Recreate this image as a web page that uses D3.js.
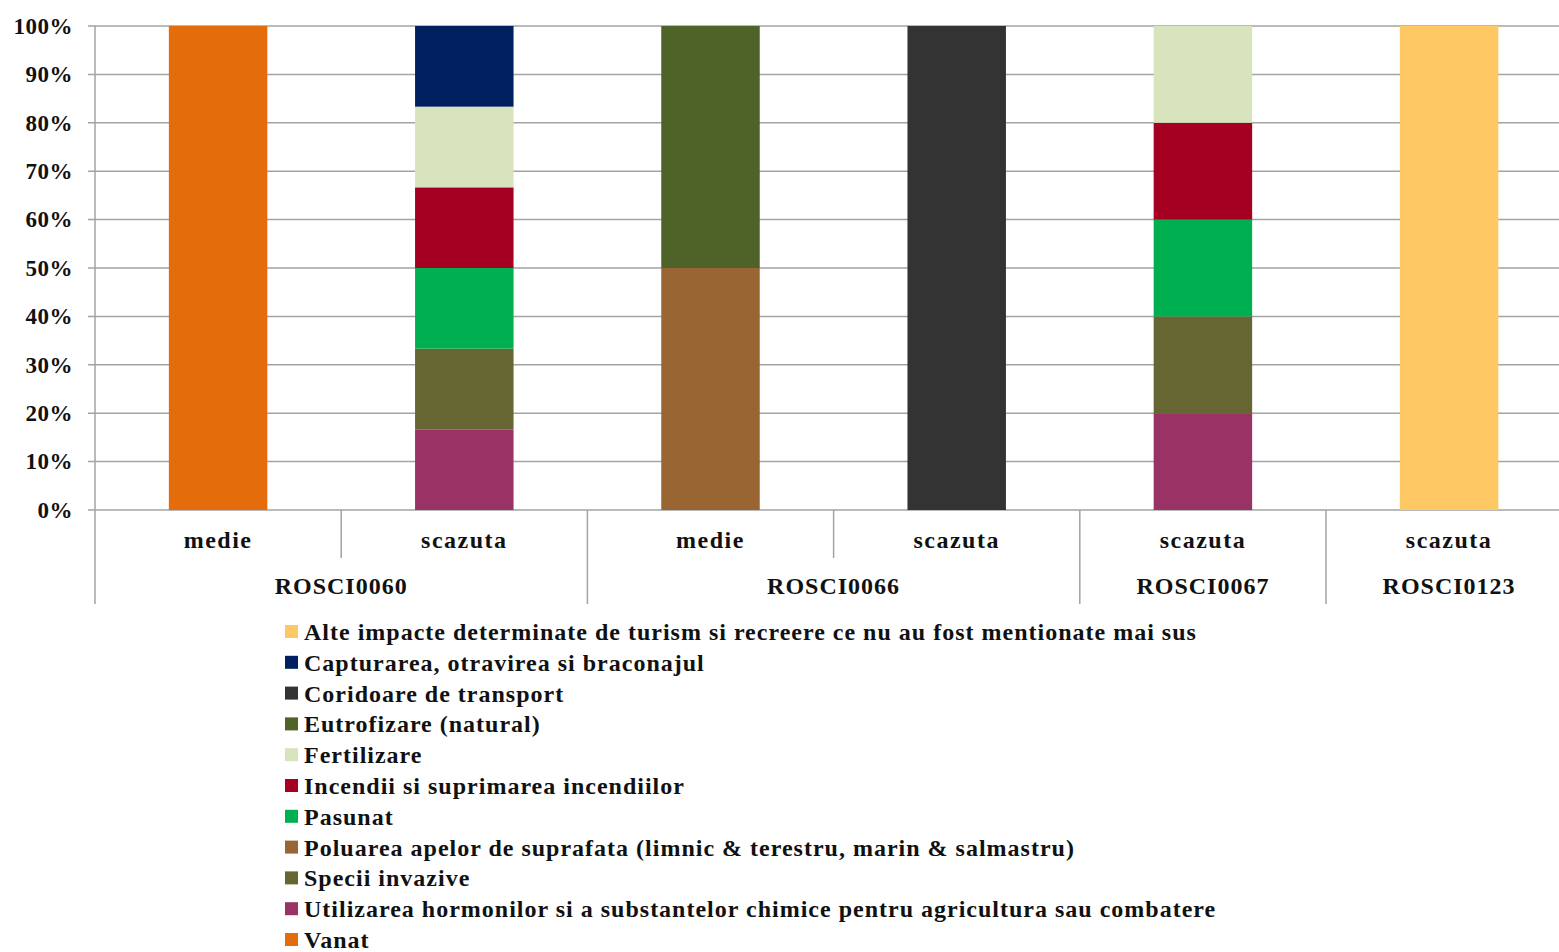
<!DOCTYPE html>
<html>
<head>
<meta charset="utf-8">
<script src="https://cdn.jsdelivr.net/npm/d3@7"></script>
<style>
  html, body { margin: 0; padding: 0; background: #fff; }
  svg { display: block; }
  text { font-family: "Liberation Serif", "DejaVu Serif", serif; font-weight: bold; fill: #111; }
</style>
</head>
<body>
<svg id="chart" width="1559" height="952"></svg>
<script>
// Each bar: a site and the level of impact recorded there
const sites  = ["ROSCI0060", "ROSCI0060", "ROSCI0066", "ROSCI0066", "ROSCI0067", "ROSCI0123"];
const levels = ["medie", "scazuta", "medie", "scazuta", "scazuta", "scazuta"];

// Threat names, legend order (top to bottom)
const threats = [
  "Alte impacte determinate de turism si recreere ce nu au fost mentionate mai sus",
  "Capturarea, otravirea si braconajul",
  "Coridoare de transport",
  "Eutrofizare (natural)",
  "Fertilizare",
  "Incendii si suprimarea incendiilor",
  "Pasunat",
  "Poluarea apelor de suprafata (limnic & terestru, marin & salmastru)",
  "Specii invazive",
  "Utilizarea hormonilor si a substantelor chimice pentru agricultura sau combatere",
  "Vanat"
];

const colors = [
  "#fec964", "#002060", "#333333", "#4f6228", "#d7e4bd", "#a50021",
  "#00b050", "#996633", "#666633", "#993366", "#e46c0a"
];

// Number of occurrences per bar, one array per threat
const alte        = [0, 0, 0, 0, 0, 1];
const capturarea  = [0, 1, 0, 0, 0, 0];
const coridoare   = [0, 0, 0, 1, 0, 0];
const eutrofizare = [0, 0, 1, 0, 0, 0];
const fertilizare = [0, 1, 0, 0, 1, 0];
const incendii    = [0, 1, 0, 0, 1, 0];
const pasunat     = [0, 1, 0, 0, 1, 0];
const poluarea    = [0, 0, 1, 0, 0, 0];
const specii      = [0, 1, 0, 0, 1, 0];
const utilizarea  = [0, 1, 0, 0, 1, 0];
const vanat       = [1, 0, 0, 0, 0, 0];

const yTicks = [0, 0.1, 0.2, 0.3, 0.4, 0.5, 0.6, 0.7, 0.8, 0.9, 1.0];

const seriesValues = [alte, capturarea, coridoare, eutrofizare, fertilizare,
  incendii, pasunat, poluarea, specii, utilizarea, vanat];

(function draw() {
  // Build a row per bar for d3.stack
  const rows = sites.map((s, i) => {
    const r = { idx: i };
    threats.forEach((t, k) => { r[t] = seriesValues[k][i]; });
    return r;
  });

  // Stack bottom-up in reverse legend order (Vanat at the bottom)
  const stackKeys = threats.slice().reverse();
  const stacked = d3.stack()
    .keys(stackKeys)
    .offset(d3.stackOffsetExpand)
    .order(d3.stackOrderNone)(rows);

  const color = d3.scaleOrdinal().domain(threats).range(colors);

  const svg = d3.select("#chart");
  const plotLeft = 95, plotTop = 26, plotBottom = 510, step = 246.2;

  const x = d3.scaleBand()
    .domain(d3.range(sites.length))
    .range([plotLeft, plotLeft + step * sites.length])
    .paddingInner(0.6)
    .paddingOuter(0.3);

  const y = d3.scaleLinear().domain([0, 1]).range([plotBottom, plotTop]);

  // Gridlines
  const gridColor = "#a3a3a3";
  svg.append("g")
    .selectAll("line")
    .data(yTicks)
    .join("line")
    .attr("x1", plotLeft - 7)
    .attr("x2", 1559)
    .attr("y1", d => y(d))
    .attr("y2", d => y(d))
    .attr("stroke", gridColor)
    .attr("stroke-width", 1.5);

  // Y axis labels
  const yAxis = d3.axisLeft(y).tickValues(yTicks).tickFormat(d3.format(".0%")).tickSize(0).tickPadding(22);
  const gy = svg.append("g").attr("transform", `translate(${plotLeft},0)`).call(yAxis);
  gy.select(".domain").remove();
  gy.selectAll("text")
    .style("font-family", "'Liberation Serif', serif")
    .style("font-weight", "bold")
    .style("font-size", "23px")
    .style("letter-spacing", "0.5px")
    .attr("fill", "#111");

  // Bars
  svg.append("g")
    .selectAll("g")
    .data(stacked)
    .join("g")
    .attr("fill", d => color(d.key))
    .selectAll("rect")
    .data(d => d.filter(p => p[1] - p[0] > 0))
    .join("rect")
    .attr("x", d => x(d.data.idx))
    .attr("width", x.bandwidth())
    .attr("y", d => y(d[1]))
    .attr("height", d => y(d[0]) - y(d[1]));

  // Category axis: vertical axis line and separators
  const axisG = svg.append("g").attr("stroke", gridColor).attr("stroke-width", 1.5);
  axisG.append("line")
    .attr("x1", plotLeft).attr("x2", plotLeft)
    .attr("y1", plotTop).attr("y2", 604);

  const boundary = i => plotLeft + step * i;
  for (let i = 1; i < sites.length; i++) {
    const groupBreak = sites[i] !== sites[i - 1];
    axisG.append("line")
      .attr("x1", boundary(i)).attr("x2", boundary(i))
      .attr("y1", plotBottom).attr("y2", groupBreak ? 604 : 558);
  }

  // Level labels
  svg.append("g")
    .selectAll("text")
    .data(levels)
    .join("text")
    .attr("x", (d, i) => x(i) + x.bandwidth() / 2)
    .attr("y", 548)
    .attr("text-anchor", "middle")
    .style("font-size", "24px")
    .style("letter-spacing", "1.5px")
    .text(d => d);

  // Site labels centred under their bars
  const siteGroups = d3.groups(sites.map((s, i) => ({ s, i })), d => d.s);
  svg.append("g")
    .selectAll("text")
    .data(siteGroups)
    .join("text")
    .attr("x", d => (boundary(d[1][0].i) + boundary(d[1][d[1].length - 1].i + 1)) / 2)
    .attr("y", 594)
    .attr("text-anchor", "middle")
    .style("font-size", "24px")
    .style("letter-spacing", "1px")
    .text(d => d[0]);

  // Legend
  const legend = svg.append("g").attr("transform", "translate(285,632)");
  const item = legend.selectAll("g")
    .data(threats)
    .join("g")
    .attr("transform", (d, i) => `translate(0,${i * 30.8})`);
  item.append("rect")
    .attr("x", 0).attr("y", -7)
    .attr("width", 13).attr("height", 13)
    .attr("fill", d => color(d));
  item.append("text")
    .attr("x", 19)
    .attr("y", 8)
    .style("font-size", "24px")
    .style("letter-spacing", "1px")
    .text(d => d);
})();
</script>
</body>
</html>
